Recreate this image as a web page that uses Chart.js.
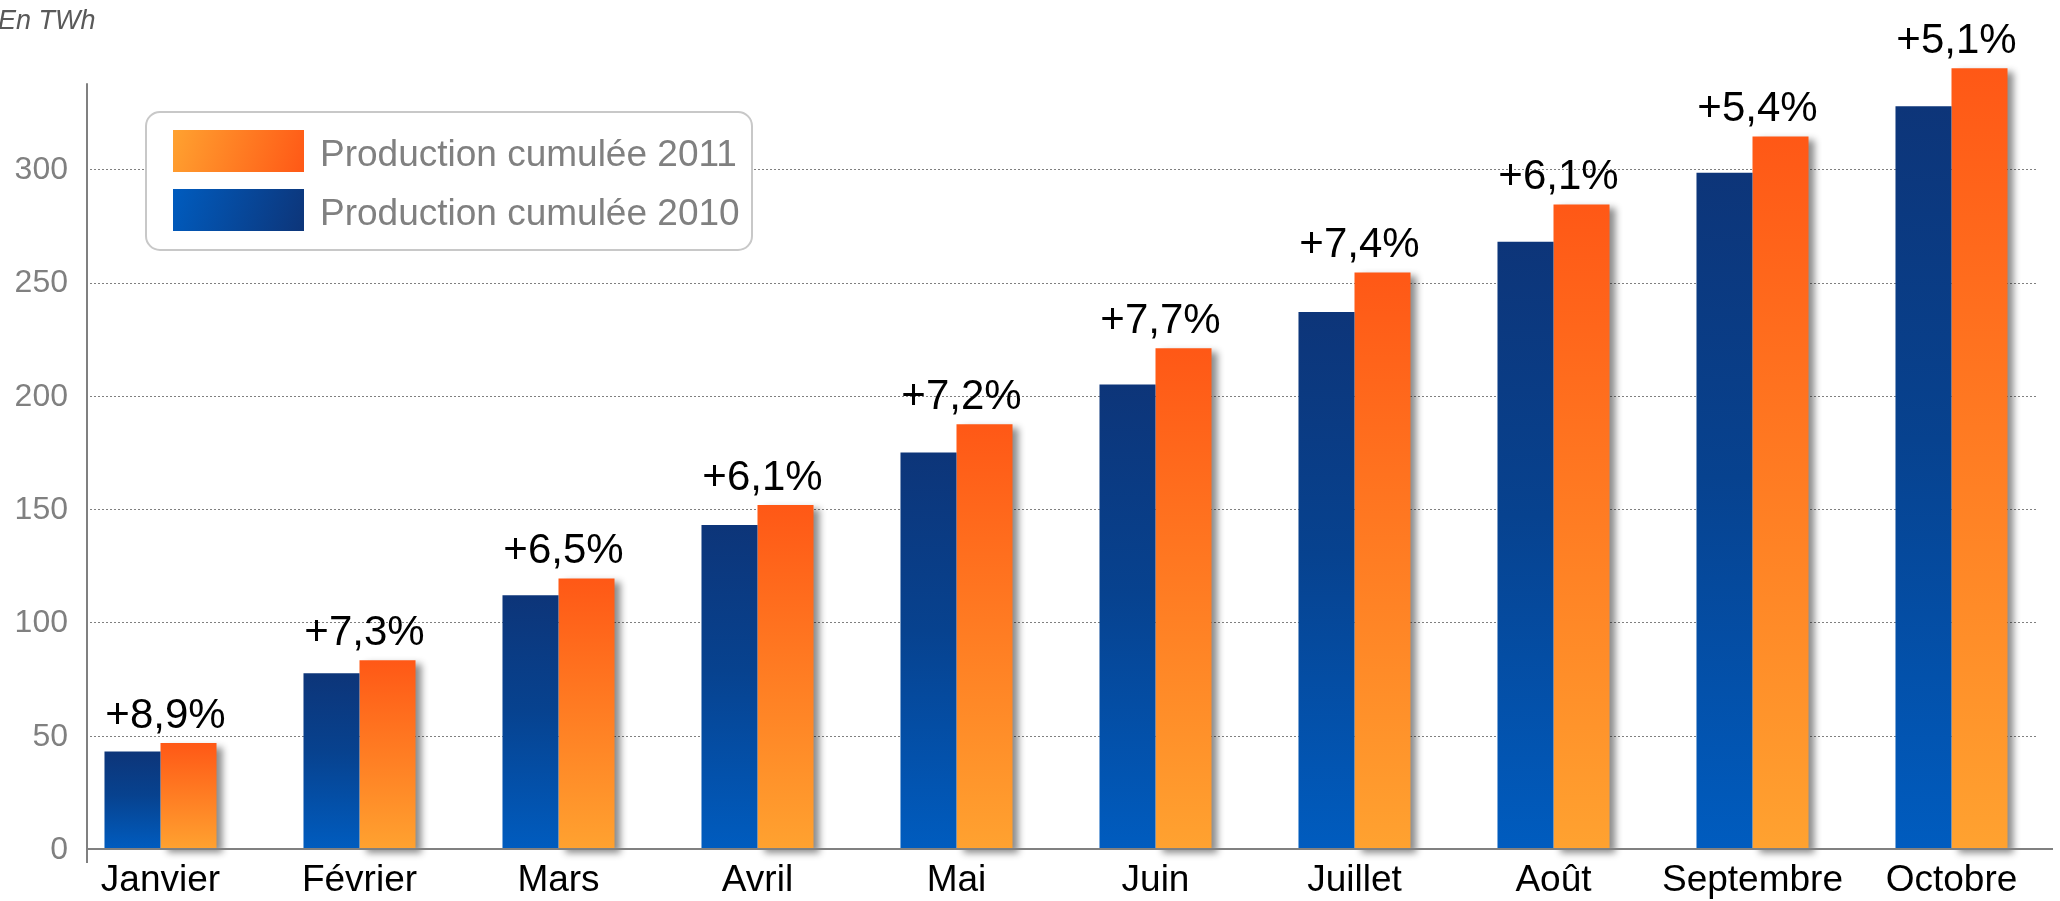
<!DOCTYPE html>
<html lang="fr">
<head>
<meta charset="utf-8">
<script src="https://cdn.jsdelivr.net/npm/chart.js@4.4.1/dist/chart.umd.min.js"></script>
<style>
  html, body { margin: 0; padding: 0; background: #fff; }
  #cadre { width: 2060px; height: 901px; }
</style>
</head>
<body>
<div id="cadre"><canvas id="graphe" width="2060" height="901"></canvas></div>
<script>
// Données, en TWh
const mois = ['Janvier', 'Février', 'Mars', 'Avril', 'Mai', 'Juin', 'Juillet', 'Août', 'Septembre', 'Octobre'];
const prod2010 = [43, 77.6, 112, 143, 175, 205, 237, 268, 298.5, 327.8];
const prod2011 = [46.8, 83.3, 119.4, 151.8, 187.5, 221, 254.5, 284.5, 314.5, 344.6];
const hausses = ['+8,9%', '+7,3%', '+6,5%', '+6,1%', '+7,2%', '+7,7%', '+7,4%', '+6,1%', '+5,4%', '+5,1%'];
const graduations = [0, 50, 100, 150, 200, 250, 300];

const police = "'Liberation Sans', Arial, sans-serif";

// dégradé vertical par barre (haut foncé -> bas clair)
function degradeBarre(context, arrets, defaut) {
    const chart = context.chart;
    const y = chart.scales.y;
    if (!y || context.raw == null) return defaut;
    const haut = y.getPixelForValue(context.raw);
    const bas = y.getPixelForValue(0);
    if (!isFinite(haut) || !isFinite(bas) || haut === bas) return defaut;
    const g = chart.ctx.createLinearGradient(0, haut, 0, bas);
    arrets.forEach(([pos, c]) => g.addColorStop(pos, c));
    return g;
}
const arretsBleu = [[0, '#0d3579'], [0.45, '#07428f'], [1, '#005cbf']];
const arretsOrange = [[0, '#ff5816'], [1, '#ffa230']];

// =========================================================
// Décor : axes, grille pointillée, légende, étiquettes %
// =========================================================
const decor = {
    id: 'decor',
    beforeDatasetsDraw(chart) {
        const { ctx, chartArea, scales } = chart;
        const axeX = chartArea.left + 26;
        ctx.save();
        // grille pointillée
        ctx.strokeStyle = '#808080';
        ctx.lineWidth = 1;
        ctx.setLineDash([2, 2]);
        graduations.filter(v => v > 0).forEach(v => {
            const y = Math.round(scales.y.getPixelForValue(v)) + 0.5;
            ctx.beginPath();
            ctx.moveTo(axeX + 3, y);
            ctx.lineTo(chartArea.right - 13, y);
            ctx.stroke();
        });
        ctx.setLineDash([]);
        // graduations de l'axe Y
        ctx.fillStyle = '#808080';
        ctx.font = '32px ' + police;
        ctx.textAlign = 'right';
        ctx.textBaseline = 'middle';
        graduations.forEach(v => {
            ctx.fillText(String(v), axeX - 19, scales.y.getPixelForValue(v) + 1);
        });
        ctx.restore();
    },
    beforeDatasetDraw(chart, args) {
        if (args.index === 1) {
            const ctx = chart.ctx;
            ctx.save();
            ctx.shadowColor = 'rgba(0, 0, 0, 0.45)';
            ctx.shadowOffsetX = 6;
            ctx.shadowOffsetY = 4;
            ctx.shadowBlur = 7;
        }
    },
    afterDatasetDraw(chart, args) {
        if (args.index === 1) chart.ctx.restore();
    },
    afterDatasetsDraw(chart) {
        const { ctx, chartArea, scales } = chart;
        const axeX = chartArea.left + 26;
        const zero = scales.y.getPixelForValue(0);
        ctx.save();

        // axes
        ctx.strokeStyle = '#808080';
        ctx.lineWidth = 2;
        ctx.beginPath();
        ctx.moveTo(axeX, scales.y.getPixelForValue(338));
        ctx.lineTo(axeX, zero + 14);
        ctx.moveTo(axeX, zero);
        ctx.lineTo(chartArea.right + 2, zero);
        ctx.stroke();

        // étiquettes de hausse
        const m0 = chart.getDatasetMeta(0);
        const m1 = chart.getDatasetMeta(1);
        ctx.fillStyle = '#000';
        ctx.font = '42px ' + police;
        ctx.textAlign = 'center';
        ctx.textBaseline = 'alphabetic';
        hausses.forEach((t, i) => {
            const cx = (m0.data[i].x + m1.data[i].x) / 2 + 5;
            ctx.fillText(t, cx, m1.data[i].y - 15);
        });

        // unité
        ctx.fillStyle = '#595959';
        ctx.font = 'italic 27px ' + police;
        ctx.textAlign = 'left';
        ctx.fillText('En TWh', -2, 29);

        // légende
        ctx.beginPath();
        ctx.roundRect(146, 112, 606, 138, 14);
        ctx.fillStyle = '#fff';
        ctx.fill();
        ctx.strokeStyle = '#c8c8c8';
        ctx.lineWidth = 2;
        ctx.stroke();

        const entrees = [
            { ds: 1, y: 130, c: ['#ffa230', '#ff5816'] },
            { ds: 0, y: 189, c: ['#005cbf', '#0d3579'] }
        ];
        entrees.forEach(e => {
            const g = ctx.createLinearGradient(173, e.y, 304, e.y + 42);
            g.addColorStop(0, e.c[0]);
            g.addColorStop(1, e.c[1]);
            ctx.fillStyle = g;
            ctx.fillRect(173, e.y, 131, 42);
            ctx.fillStyle = '#808080';
            ctx.font = '37px ' + police;
            ctx.fillText(chart.data.datasets[e.ds].label, 320, e.y + 36);
        });
        ctx.restore();
    }
};

const graphe = new Chart(document.getElementById('graphe'), {
    type: 'bar',
    data: {
        labels: mois,
        datasets: [{
            label: 'Production cumulée 2010',
            data: prod2010,
            backgroundColor: c => degradeBarre(c, arretsBleu, '#005cbf'),
            categoryPercentage: 0.563,
            barPercentage: 1,
            clip: false
        }, {
            label: 'Production cumulée 2011',
            data: prod2011,
            backgroundColor: c => degradeBarre(c, arretsOrange, '#ff8a20'),
            categoryPercentage: 0.563,
            barPercentage: 1,
            clip: false
        }]
    },
    options: {
        responsive: false,
        animation: false,
        layout: { padding: { top: 56, right: 9, left: 0, bottom: 0 } },
        plugins: { legend: { display: false }, tooltip: { enabled: false } },
        scales: {
            x: {
                grid: { display: false, drawTicks: false },
                border: { display: false },
                ticks: { color: '#000', font: { size: 37, family: police }, padding: 10, maxRotation: 0, autoSkip: false },
                afterFit: s => { s.height = 52; }
            },
            y: {
                min: 0,
                max: 350,
                grid: { display: false, drawTicks: false },
                border: { display: false },
                afterBuildTicks: s => { s.ticks = graduations.map(v => ({ value: v })); },
                ticks: { display: false },
                afterFit: s => { s.width = 61; }
            }
        }
    },
    plugins: [decor]
});
graphe.update();
</script>
</body>
</html>
